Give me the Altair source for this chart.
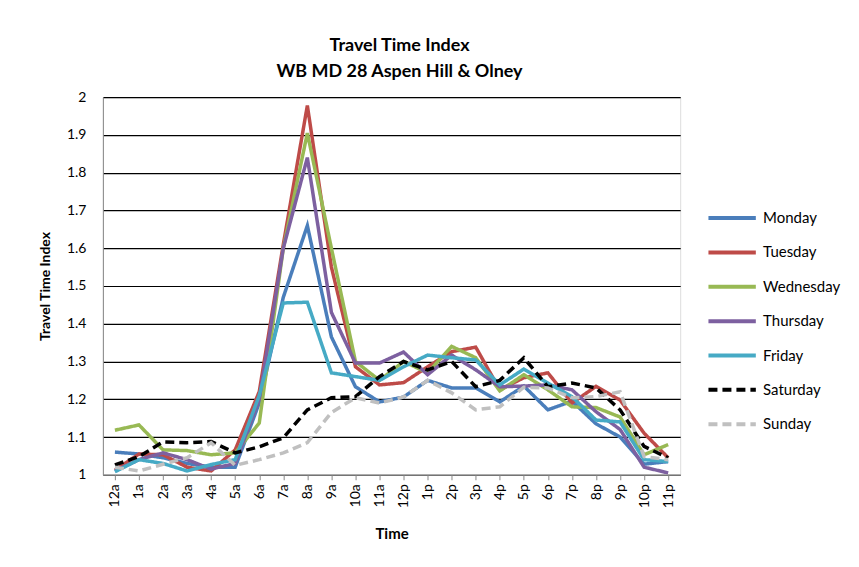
import altair as alt
import pandas as pd

hours = ["12a", "1a", "2a", "3a", "4a", "5a", "6a", "7a", "8a", "9a", "10a", "11a",
         "12p", "1p", "2p", "3p", "4p", "5p", "6p", "7p", "8p", "9p", "10p", "11p"]

monday = [1.06, 1.055, 1.045, 1.03, 1.02, 1.02, 1.19, 1.47, 1.66, 1.365, 1.233, 1.193,
          1.206, 1.25, 1.23, 1.23, 1.193, 1.235, 1.172, 1.195, 1.135, 1.10, 1.028, 1.035]
tuesday = [1.012, 1.055, 1.053, 1.02, 1.01, 1.066, 1.22, 1.61, 1.978, 1.55, 1.286, 1.238,
           1.244, 1.286, 1.326, 1.338, 1.225, 1.257, 1.27, 1.19, 1.234, 1.198, 1.11, 1.045]
wednesday = [1.118, 1.132, 1.066, 1.064, 1.053, 1.058, 1.137, 1.60, 1.905, 1.60, 1.30, 1.25,
             1.30, 1.27, 1.34, 1.31, 1.222, 1.265, 1.225, 1.18, 1.178, 1.153, 1.053, 1.08]
thursday = [1.01, 1.04, 1.058, 1.04, 1.015, 1.03, 1.20, 1.60, 1.84, 1.43, 1.296, 1.296,
            1.325, 1.265, 1.317, 1.278, 1.233, 1.235, 1.238, 1.225, 1.167, 1.12, 1.02, 1.005]
friday = [1.008, 1.04, 1.03, 1.01, 1.027, 1.04, 1.21, 1.455, 1.457, 1.27, 1.26, 1.25,
          1.286, 1.317, 1.31, 1.304, 1.238, 1.28, 1.243, 1.207, 1.145, 1.14, 1.04, 1.035]
saturday = [1.026, 1.048, 1.087, 1.085, 1.088, 1.058, 1.074, 1.098, 1.172, 1.204, 1.207, 1.26,
            1.30, 1.278, 1.30, 1.233, 1.25, 1.31, 1.233, 1.243, 1.23, 1.172, 1.075, 1.045]
sunday = [1.02, 1.01, 1.028, 1.045, 1.085, 1.025, 1.04, 1.058, 1.085, 1.165, 1.204, 1.19,
          1.206, 1.25, 1.217, 1.172, 1.18, 1.232, 1.23, 1.204, 1.207, 1.22, 1.048, 1.04]

days = ["Monday", "Tuesday", "Wednesday", "Thursday", "Friday", "Saturday", "Sunday"]
series = [monday, tuesday, wednesday, thursday, friday, saturday, sunday]
colors = ["#4A7EBB", "#BE4B48", "#98B954", "#7D60A0", "#46AAC5", "#000000", "#C0C0C0"]
dashes = [[1, 0], [1, 0], [1, 0], [1, 0], [1, 0], [9, 5], [9, 5]]
y_ticks = [1.0, 1.1, 1.2, 1.3, 1.4, 1.5, 1.6, 1.7, 1.8, 1.9, 2.0]

rows = []
for d, vals in zip(days, series):
    for h, v in zip(hours, vals):
        rows.append({"Time": h, "Day": d, "TTI": v})
df = pd.DataFrame(rows)

FONT = "Lato"

legend = alt.Legend(
    title=None, orient="none", legendX=604, legendY=111,
    symbolType="stroke", symbolSize=2250, symbolStrokeWidth=4,
    clipHeight=20, rowPadding=14.4, labelFontSize=15, labelFont=FONT,
    labelColor="#000000", labelOffset=5,
)

chart = alt.Chart(df).mark_line(strokeWidth=3.5).encode(
    x=alt.X("Time:N", sort=hours, title="Time",
            axis=alt.Axis(labelAngle=-90, labelFontSize=14, labelFont=FONT,
                          labelColor="#000000", titleFont=FONT, titleFontSize=15,
                          titleFontWeight="bold", titleColor="#000000",
                          domainColor="#888888", tickColor="#888888", tickSize=5,
                          labelPadding=4, titlePadding=19, grid=False)),
    y=alt.Y("TTI:Q", title="Travel Time Index",
            scale=alt.Scale(domain=[1, 2], nice=False, zero=False),
            axis=alt.Axis(values=y_ticks, format=".1~f", labelFontSize=14,
                          labelFont=FONT, labelColor="#000000", titleFont=FONT,
                          titleFontSize=14, titleFontWeight="bold",
                          titleColor="#000000", domainColor="#888888",
                          ticks=False, labelPadding=17, titlePadding=14,
                          grid=True, gridColor="#000000", gridWidth=1.2,
                          gridOpacity=1)),
    color=alt.Color("Day:N", sort=days,
                    scale=alt.Scale(domain=days, range=colors), legend=legend),
    strokeDash=alt.StrokeDash("Day:N", sort=days,
                              scale=alt.Scale(domain=days, range=dashes),
                              legend=legend),
).properties(
    width=578, height=378,
    title=alt.TitleParams(
        ["Travel Time Index", "WB MD 28 Aspen Hill & Olney"],
        font=FONT, fontSize=18, fontWeight="bold", color="#000000",
        anchor="middle", frame="group", lineHeight=26, offset=9, dx=8,
    ),
    padding={"left": 30, "top": 29, "right": 10, "bottom": 10},
).configure_view(
    stroke="#000000", strokeWidth=1.2,
).configure(background="#ffffff")

chart.save("out.html", embed_options={"renderer": "svg", "actions": False})
